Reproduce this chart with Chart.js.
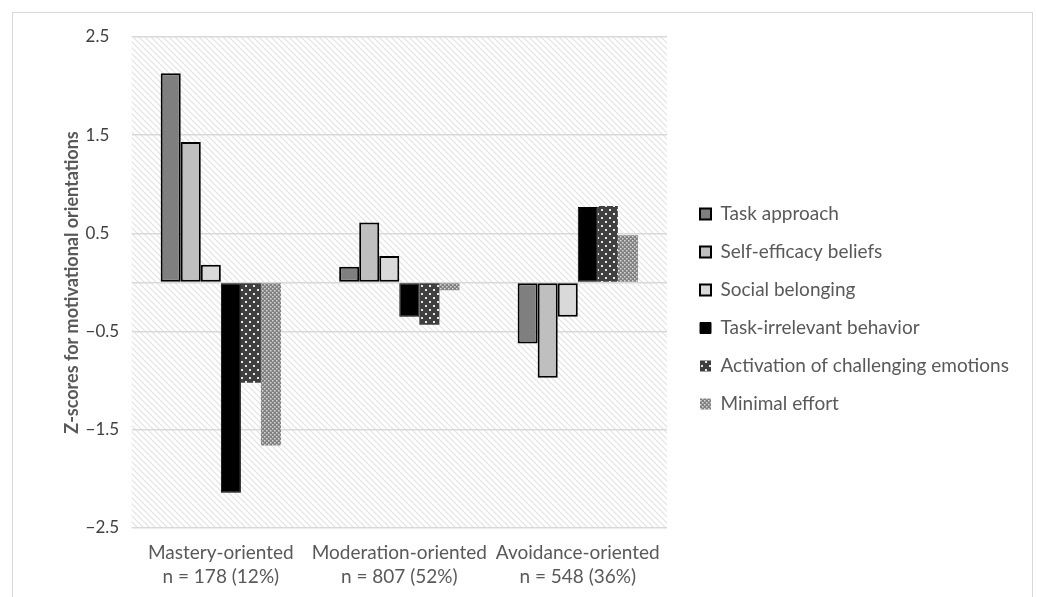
<!DOCTYPE html>
<html>
<head>
<meta charset="utf-8">
<script src="https://cdn.jsdelivr.net/npm/chart.js@4.4.1/dist/chart.umd.min.js"></script>
<style>
  html, body { margin: 0; padding: 0; background: #fff; }
  #frame { position: absolute; left: 12px; top: 12px; width: 1019px; height: 600px; border: 1px solid #d9d9d9; }
  #wrap { position: absolute; left: 0; top: 0; width: 1037px; height: 597px; }
</style>
</head>
<body>
<div id="frame"></div>
<div id="wrap"><canvas id="chart"></canvas></div>
<script>
const categories = [
  ['Mastery-oriented', 'n = 178 (12%)'],
  ['Moderation-oriented', 'n = 807 (52%)'],
  ['Avoidance-oriented', 'n = 548 (36%)'],
];
const seriesNames = ['Task approach', 'Self-efficacy beliefs', 'Social belonging',
  'Task-irrelevant behavior', 'Activation of challenging emotions', 'Minimal effort'];
const taskApproach   = [2.13, 0.16, -0.62];
const selfEfficacy   = [1.43, 0.61, -0.97];
const socialBelong   = [0.18, 0.27, -0.35];
const taskIrrelevant = [-2.14, -0.35, 0.77];
const activation     = [-1.02, -0.43, 0.78];
const minimalEffort  = [-1.66, -0.08, 0.48];
const yTicks = [-2.5, -1.5, -0.5, 0, 0.5, 1.5, 2.5];

function el(id) { return document.getElementById(id); }

// small tile patterns, Excel-style
function tile(size, draw) {
  const c = document.createElement('canvas');
  c.width = c.height = size;
  draw(c.getContext('2d'), size);
  return el('chart').getContext('2d').createPattern(c, 'repeat');
}
const hatch = tile(6, (g, s) => {
  g.fillStyle = '#fff'; g.fillRect(0, 0, s, s);
  g.strokeStyle = '#e2e2e2'; g.lineWidth = 1.2;
  g.beginPath();
  g.moveTo(0, 0); g.lineTo(s, s);
  g.moveTo(-2, s - 2); g.lineTo(2, s + 2);
  g.moveTo(s - 2, -2); g.lineTo(s + 2, 2);
  g.stroke();
});
const darkDots = tile(8, (g, s) => {
  g.fillStyle = '#3f3f3f'; g.fillRect(0, 0, s, s);
  g.fillStyle = '#e8e8e8';
  g.fillRect(1, 1, 2, 2); g.fillRect(5, 5, 2, 2);
});
const greyDots = tile(4, (g, s) => {
  g.fillStyle = '#808080'; g.fillRect(0, 0, s, s);
  g.fillStyle = '#d8d8d8';
  g.fillRect(0, 0, 1.5, 1.5); g.fillRect(2, 2, 1.5, 1.5);
});

const plotBackground = {
  id: 'plotBackground',
  beforeDraw(chart) {
    const { ctx, chartArea: a } = chart;
    ctx.save();
    ctx.fillStyle = hatch;
    ctx.fillRect(a.left, a.top, a.right - a.left, a.bottom - a.top);
    ctx.restore();
  }
};

// the legend is wider than Chart.js allows for a side box, so give it a fixed width
const wideLegend = {
  id: 'wideLegend',
  beforeLayout(chart) {
    const lg = chart.legend;
    if (!lg || lg._wide) return;
    const fit = lg.fit;
    lg.fit = function () { fit.call(this); this.width = 356; };
    lg._wide = true;
  },
  afterLayout(chart) {
    // nudge the legend column up a little
    chart.legend.top -= 4;
    chart.legend.bottom -= 4;
  }
};

const fills = ['#7f7f7f', '#bfbfbf', '#d9d9d9', '#000000', darkDots, greyDots];
const borders = ['#000', '#000', '#000', '#000', '#3f3f3f', '#808080'];
const borderW = [2, 2, 2, 1, 0, 0];
const values = [taskApproach, selfEfficacy, socialBelong, taskIrrelevant, activation, minimalEffort];

const txt = '#595959';
new Chart(el('chart').getContext('2d'), {
  type: 'bar',
  data: {
    labels: categories,
    datasets: seriesNames.map((name, i) => ({
      label: name, data: values[i],
      backgroundColor: fills[i], borderColor: borders[i], borderWidth: borderW[i],
      borderSkipped: false, categoryPercentage: 0.674, barPercentage: 1,
    })),
  },
  options: {
    responsive: true, maintainAspectRatio: false, animation: false,
    layout: { padding: { left: 58, top: 37, right: 0, bottom: 8 } },
    plugins: {
      tooltip: { enabled: false },
      title: {
        display: true, position: 'left', fullSize: false,
        text: 'Z-scores for motivational orientations', color: txt,
        font: { family: 'Lato', size: 18, weight: 'bold' }, padding: 3,
      },
      legend: {
        position: 'right',
        labels: { color: txt, font: { family: 'Lato', size: 19 }, boxWidth: 11, boxHeight: 11, padding: 19 },
      },
    },
    scales: {
      x: {
        grid: { display: false, drawTicks: false }, border: { display: false },
        ticks: { color: txt, font: { family: 'Lato', size: 19, lineHeight: 1.25 }, padding: 13,
                 maxRotation: 0, minRotation: 0, autoSkip: false },
        afterFit: s => { s.height = 61; },
      },
      y: {
        min: -2.5, max: 2.5,
        afterBuildTicks: s => { s.ticks = yTicks.map(v => ({ value: v })); },
        grid: { color: '#d9d9d9', lineWidth: 1.5, drawTicks: false },
        border: { display: false },
        ticks: { color: '#404040', font: { family: 'Lato', size: 17 }, padding: 16, crossAlign: 'far',
                 callback: v => v === 0 ? '' : (v < 0 ? '\u2212' + Math.abs(v) : String(v)) },
        afterFit: s => { s.width = 46; },
      },
      y2: {
        position: 'right', display: true,
        grid: { display: false }, border: { display: false }, ticks: { display: false },
        afterFit: s => { s.width = 14; },
      },
    },
  },
  plugins: [plotBackground, wideLegend],
});
</script>
</body>
</html>
